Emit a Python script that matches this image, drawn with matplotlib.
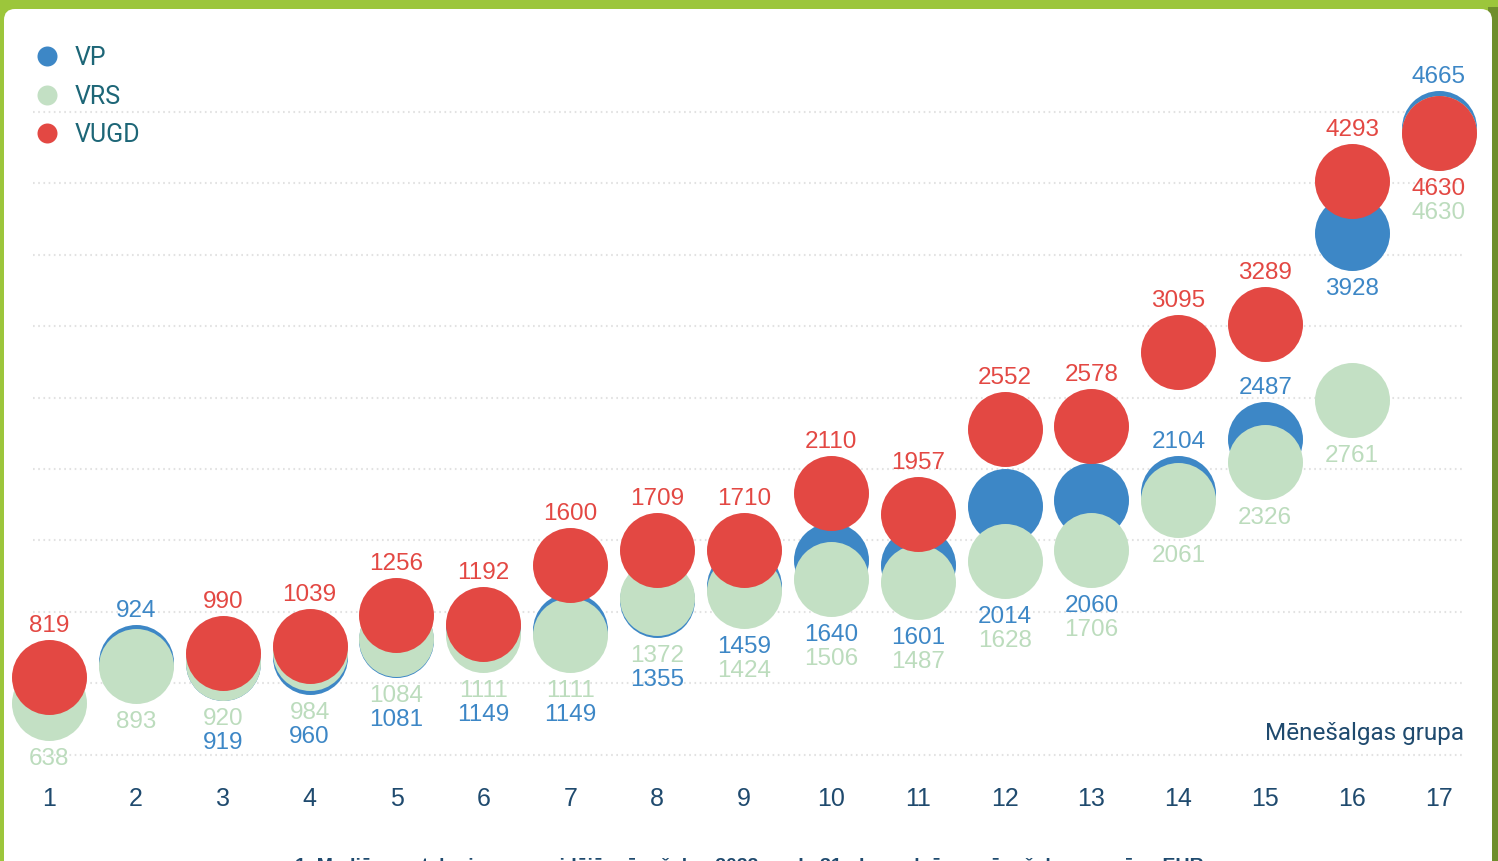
import matplotlib
matplotlib.use("Agg")
import matplotlib.pyplot as plt
from matplotlib.patches import FancyBboxPatch, Rectangle
import numpy as np

# ---------------- data ----------------
groups = list(range(1, 18))
series_names = ["VP", "VRS", "VUGD"]
vp = [None, 924, 919, 960, 1081, 1149, 1149, 1355, 1459, 1640, 1601, 2014, 2060, 2104, 2487, 3928, 4665]
vrs = [638, 893, 920, 984, 1084, 1111, 1111, 1372, 1424, 1506, 1487, 1628, 1706, 2061, 2326, 2761, 4630]
vugd = [819, None, 990, 1039, 1256, 1192, 1600, 1709, 1710, 2110, 1957, 2552, 2578, 3095, 3289, 4293, 4630]
grid_values = [275, 775, 1275, 1775, 2275, 2775, 3275, 3775, 4275, 4775]
x_title = "Mēnešalgas grupa"
footnote = "1. Mediānas atalgojums un vidējā mēnešalga 2022. gada 31. decembrī pa mēnešalgu grupām, EUR"

# ---------------- label layout (which labels sit above / below) ----------------
above_labels = {g: ["VUGD"] for g in groups}
above_labels[2] = ["VP"]
above_labels[14] = ["VUGD", "VP"]
above_labels[15] = ["VUGD", "VP"]
above_labels[17] = ["VP"]
below_labels = {1: ["VRS"], 2: ["VRS"], 14: ["VRS"], 15: ["VRS"], 16: ["VP", "VRS"], 17: ["VUGD", "VRS"]}
for g in range(3, 9):
    below_labels[g] = ["VRS", "VP"]
for g in range(9, 14):
    below_labels[g] = ["VP", "VRS"]

# ---------------- style ----------------
W, H, DPI = 1498, 862, 100
colors = {"VP": "#3d87c6", "VRS": "#c3e0c4", "VUGD": "#e34843"}
text_colors = {"VP": "#3d87c6", "VRS": "#bcdcbd", "VUGD": "#e34843"}
zorders = {"VP": 3, "VRS": 4, "VUGD": 5}
R_PX = 37.5
NUM_FONT = ["Liberation Sans", "DejaVu Sans"]
COND_FONT = ["Liberation Sans Narrow", "Roboto", "DejaVu Sans"]
navy = "#1f4a6e"

fig = plt.figure(figsize=(W / DPI, H / DPI), dpi=DPI)
fig.patch.set_facecolor("#9cc63b")

# decoration axes in pixel units
bg = fig.add_axes([0, 0, 1, 1])
bg.set_xlim(0, W)
bg.set_ylim(H, 0)
bg.axis("off")
bg.add_patch(Rectangle((1488, 8), 12, H, color="#6f8e2c", lw=0))
bg.add_patch(FancyBboxPatch((4, 10), 1488, H + 40,
                            boxstyle="round,pad=0,rounding_size=11",
                            fc="white", ec="none"))

# legend (pixel layout)
leg_y = [57, 96, 134]
for name, yy in zip(series_names, leg_y):
    bg.scatter([47], [yy], s=(20 * 0.72) ** 2, color=colors[name], lw=0, zorder=5)
    bg.text(75, yy + 1, name, fontsize=18, family=COND_FONT, color="#1d6677",
            ha="left", va="center")

# data axes
ax = fig.add_axes([0, 0, 1, 1])
ax.patch.set_alpha(0)
px_per_x = (1439 - 49) / 16.0
val_per_px = 7.0
ax.set_xlim(1 - 49 / px_per_x, 17 + (W - 1439) / px_per_x)
ax.set_ylim(819 - (H - 678) * val_per_px, 819 + 678 * val_per_px)
ax.axis("off")

ax.hlines(grid_values, 1 - 16 / px_per_x, 17 + 26 / px_per_x, colors="#e2e2e2",
          linewidth=1.5, linestyles=(0, (0.8, 1.7)), zorder=1)

data = {"VP": vp, "VRS": vrs, "VUGD": vugd}
size = (2 * R_PX * 72 / DPI) ** 2
for name in series_names:
    xs = [g for g, v in zip(groups, data[name]) if v is not None]
    ys = [v for v in data[name] if v is not None]
    ax.scatter(xs, ys, s=size, color=colors[name], lw=0, zorder=zorders[name])

fig.canvas.draw()


def ypx(g, v):
    return ax.transData.transform((g, v))[1]


pt = 72 / DPI
for i, g in enumerate(groups):
    present = {n: data[n][i] for n in series_names if data[n][i] is not None}
    for n in above_labels.get(g, []):
        ax.annotate(str(present[n]), xy=(g, present[n]), xytext=(0, 52 * pt),
                    textcoords="offset points", ha="center", va="center",
                    fontsize=17.5, family=NUM_FONT, color=text_colors[n], zorder=7)
    stacks = {}
    for n in below_labels.get(g, []):
        cluster = {n}
        changed = True
        while changed:
            changed = False
            for m in present:
                if m in cluster:
                    continue
                if any(abs(ypx(g, present[m]) - ypx(g, present[c])) < 2 * R_PX + 1 for c in cluster):
                    cluster.add(m)
                    changed = True
        anchor = min(cluster, key=lambda c: ypx(g, present[c]))
        k = stacks.get(anchor, 0)
        stacks[anchor] = k + 1
        ax.annotate(str(present[n]), xy=(g, present[anchor]),
                    xytext=(0, -(55 + 24 * k) * pt), textcoords="offset points",
                    ha="center", va="center", fontsize=17.5, family=NUM_FONT,
                    color=text_colors[n], zorder=7)

# x tick labels
tick_y = 1 - 799 / H
for g in groups:
    ax.text(g, tick_y, str(g), transform=ax.get_xaxis_transform(), ha="center",
            va="center", fontsize=18, family=NUM_FONT, color=navy)

# axis title
ax.text(17 + 25 / px_per_x, 1 - 734 / H, x_title, transform=ax.get_xaxis_transform(),
        ha="right", va="center", fontsize=17.5, family=COND_FONT, color=navy)

# footnote (cut by the bottom edge, as in the original)
bg.text(749, 871, footnote, ha="center", va="baseline", fontsize=14,
        family=NUM_FONT, weight="bold", color=navy)

fig.savefig("out.png", dpi=DPI)
